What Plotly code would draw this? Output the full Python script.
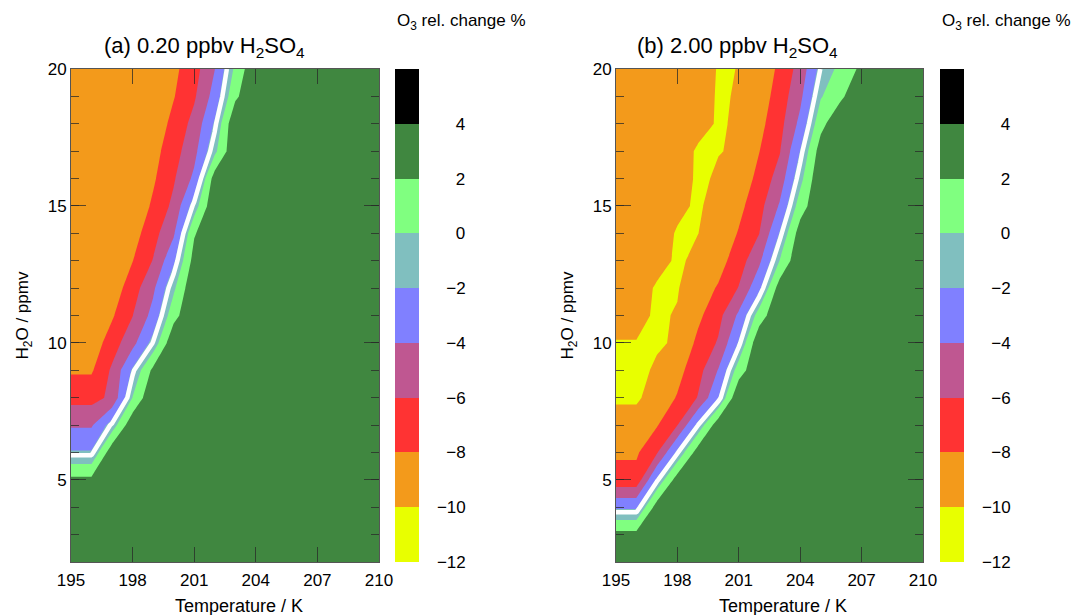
import plotly.graph_objects as go

# ---------------- data ----------------
temperature_K = [195, 196, 197, 198, 199, 200, 201, 202, 203, 204, 205, 206, 207, 208, 209, 210]
h2o_ppmv = [2, 3, 4, 5, 6, 7, 8, 9, 10, 11, 12, 13, 14, 15, 16, 17, 18, 19, 20]

# O3 relative change (%) for 0.20 ppbv H2SO4, one row per H2O value
o3_change_a = [
    [3.8, 3.8, 3.8, 3.8, 3.8, 3.8, 3.8, 3.8, 3.8, 3.8, 3.8, 3.8, 3.8, 3.8, 3.8, 3.8],
    [3.8, 3.8, 3.8, 3.8, 3.8, 3.8, 3.8, 3.8, 3.8, 3.8, 3.8, 3.8, 3.8, 3.8, 3.8, 3.8],
    [3.8, 3.8, 3.8, 3.8, 3.8, 3.8, 3.8, 3.8, 3.8, 3.8, 3.8, 3.8, 3.8, 3.8, 3.8, 3.8],
    [2.5, 2.5, 3.8, 3.8, 3.8, 3.8, 3.8, 3.8, 3.8, 3.8, 3.8, 3.8, 3.8, 3.8, 3.8, 3.8],
    [-1.83, -1.83, 3.4, 3.8, 3.8, 3.8, 3.8, 3.8, 3.8, 3.8, 3.8, 3.8, 3.8, 3.8, 3.8, 3.8],
    [-4.24, -4.24, -1.12, 3.56, 3.8, 3.8, 3.8, 3.8, 3.8, 3.8, 3.8, 3.8, 3.8, 3.8, 3.8, 3.8],
    [-6.65, -6.65, -5.6, 0.05, 3.9, 3.8, 3.8, 3.8, 3.8, 3.8, 3.8, 3.8, 3.8, 3.8, 3.8, 3.8],
    [-8.24, -8.24, -5.68, -1.72, 2.5, 3.8, 3.8, 3.8, 3.8, 3.8, 3.8, 3.8, 3.8, 3.8, 3.8, 3.8],
    [-9.2, -9.2, -6.98, -4.62, -1.31, 3.67, 3.8, 3.8, 3.8, 3.8, 3.8, 3.8, 3.8, 3.8, 3.8, 3.8],
    [-9.6, -9.6, -8.25, -6.05, -3.33, 1.31, 3.8, 3.8, 3.8, 3.8, 3.8, 3.8, 3.8, 3.8, 3.8, 3.8],
    [-9.6, -9.6, -9.17, -6.92, -4.38, -0.39, 3.8, 3.8, 3.8, 3.8, 3.8, 3.8, 3.8, 3.8, 3.8, 3.8],
    [-9.6, -9.6, -9.6, -8.05, -5.9, -2.35, 2.8, 3.8, 3.8, 3.8, 3.8, 3.8, 3.8, 3.8, 3.8, 3.8],
    [-9.6, -9.6, -9.6, -8.87, -6.74, -4.29, 1.8, 3.8, 3.8, 3.8, 3.8, 3.8, 3.8, 3.8, 3.8, 3.8],
    [-9.6, -9.6, -9.6, -9.6, -7.67, -5.5, -1.03, 3.8, 3.8, 3.8, 3.8, 3.8, 3.8, 3.8, 3.8, 3.8],
    [-9.6, -9.6, -9.6, -9.6, -8.29, -6.23, -3.56, 3.0, 3.8, 3.8, 3.8, 3.8, 3.8, 3.8, 3.8, 3.8],
    [-9.6, -9.6, -9.6, -9.6, -8.72, -6.83, -4.62, -0.49, 3.8, 3.8, 3.8, 3.8, 3.8, 3.8, 3.8, 3.8],
    [-9.6, -9.6, -9.6, -9.6, -9.3, -7.43, -5.35, -1.77, 3.8, 3.8, 3.8, 3.8, 3.8, 3.8, 3.8, 3.8],
    [-9.6, -9.6, -9.6, -9.6, -9.0, -8.11, -6.26, -3.2, 1.62, 3.8, 3.8, 3.8, 3.8, 3.8, 3.8, 3.8],
    [-9.6, -9.6, -9.6, -9.6, -9.0, -8.46, -6.8, -4.04, 0.43, 3.8, 3.8, 3.8, 3.8, 3.8, 3.8, 3.8],
]

# O3 relative change (%) for 2.00 ppbv H2SO4
o3_change_b = [
    [3.8, 3.8, 3.8, 3.8, 3.8, 3.8, 3.8, 3.8, 3.8, 3.8, 3.8, 3.8, 3.8, 3.8, 3.8, 3.8],
    [2.63, 2.63, 3.8, 3.8, 3.8, 3.8, 3.8, 3.8, 3.8, 3.8, 3.8, 3.8, 3.8, 3.8, 3.8, 3.8],
    [-2.3, -2.3, 3.0, 3.8, 3.8, 3.8, 3.8, 3.8, 3.8, 3.8, 3.8, 3.8, 3.8, 3.8, 3.8, 3.8],
    [-7.3, -7.3, -1.68, 3.0, 3.8, 3.8, 3.8, 3.8, 3.8, 3.8, 3.8, 3.8, 3.8, 3.8, 3.8, 3.8],
    [-8.27, -8.27, -6.2, -1.57, 3.0, 3.8, 3.8, 3.8, 3.8, 3.8, 3.8, 3.8, 3.8, 3.8, 3.8, 3.8],
    [-9.26, -9.26, -8.15, -6.05, -1.47, 3.3, 3.8, 3.8, 3.8, 3.8, 3.8, 3.8, 3.8, 3.8, 3.8, 3.8],
    [-10.25, -10.25, -9.25, -7.86, -5.9, -2.1, 3.9, 3.8, 3.8, 3.8, 3.8, 3.8, 3.8, 3.8, 3.8, 3.8],
    [-10.5, -10.5, -9.74, -8.66, -6.77, -3.89, 1.0, 3.8, 3.8, 3.8, 3.8, 3.8, 3.8, 3.8, 3.8, 3.8],
    [-10.05, -10.05, -10.2, -9.8, -7.55, -5.79, -1.81, 3.67, 3.8, 3.8, 3.8, 3.8, 3.8, 3.8, 3.8, 3.8],
    [-9.6, -9.6, -10.2, -9.9, -8.46, -6.63, -3.63, 0.95, 3.8, 3.8, 3.8, 3.8, 3.8, 3.8, 3.8, 3.8],
    [-9.2, -9.2, -10.2, -10.1, -9.0, -7.82, -5.9, -2.45, 3.0, 3.8, 3.8, 3.8, 3.8, 3.8, 3.8, 3.8],
    [-9.5, -9.5, -9.4, -10.25, -9.64, -8.79, -6.96, -4.4, 0.05, 3.8, 3.8, 3.8, 3.8, 3.8, 3.8, 3.8],
    [-9.5, -9.5, -9.2, -10.15, -10.02, -9.5, -7.85, -6.02, -1.87, 3.0, 3.8, 3.8, 3.8, 3.8, 3.8, 3.8],
    [-9.5, -9.5, -9.5, -9.6, -10.25, -9.29, -8.56, -6.69, -3.78, 1.0, 3.8, 3.8, 3.8, 3.8, 3.8, 3.8],
    [-9.5, -9.5, -9.5, -9.0, -10.3, -9.8, -9.31, -7.41, -5.12, -0.65, 3.8, 3.8, 3.8, 3.8, 3.8, 3.8],
    [-9.5, -9.5, -9.5, -9.0, -10.25, -10.05, -9.85, -8.04, -6.12, -1.95, 3.0, 3.8, 3.8, 3.8, 3.8, 3.8],
    [-9.5, -9.5, -9.5, -9.5, -9.3, -10.2, -9.76, -8.58, -6.66, -3.47, 1.33, 3.8, 3.8, 3.8, 3.8, 3.8],
    [-9.5, -9.5, -9.5, -9.5, -9.3, -10.15, -9.9, -9.06, -7.1, -4.46, -0.17, 1.65, 3.8, 3.8, 3.8, 3.8],
    [-9.5, -9.5, -9.5, -9.5, -9.2, -10.1, -9.98, -9.54, -7.54, -5.23, -1.33, 0.64, 2.45, 3.8, 3.8, 3.8],
]

# colour of each 2 % band, from (-12,-10) up to (4,6)
band_colors = ["#E8FF00", "#F39A1B", "#FF3333", "#BF5791", "#8080FF",
               "#80BFBF", "#80FF80", "#408740", "#000000"]
band_edges = [-12, -10, -8, -6, -4, -2, 0, 2, 4, 6]
cbar_tickvals = [-12, -10, -8, -6, -4, -2, 0, 2, 4]
cbar_ticktext = ["\u221212", "\u221210", "\u2007\u22128", "\u2007\u22126", "\u2007\u22124",
                 "\u2007\u22122", "\u2007\u20070", "\u2007\u20072", "\u2007\u20074"]
x_ticks = [195, 198, 201, 204, 207, 210]
y_ticks = [5, 10, 15, 20]
white_line_level = -1.4

# ---------------- figure ----------------
W, H = 1075, 615
FONT = "Liberation Sans, Arial, sans-serif"

def px_x(p):
    return p / W

def px_y(p):
    return 1 - p / H

# stepped colour scale: one flat step per 2 % band
nb = len(band_colors)
colorscale = []
for i, c in enumerate(band_colors):
    colorscale.append([i / nb, c])
    colorscale.append([(i + 1) / nb, c])

panels = [
    dict(z=o3_change_a, xref="x", yref="y", left=71, right=379, cb=395,
         title="(a) 0.20 ppbv H<sub>2</sub>SO<sub>4</sub>", title_x=204, xt_x=239),
    dict(z=o3_change_b, xref="x2", yref="y2", left=616, right=923, cb=940,
         title="(b) 2.00 ppbv H<sub>2</sub>SO<sub>4</sub>", title_x=737, xt_x=783),
]

fig = go.Figure()
for p in panels:
    fig.add_trace(go.Contour(
        x=temperature_K, y=h2o_ppmv, z=p["z"],
        xaxis=p["xref"], yaxis=p["yref"],
        colorscale=colorscale, autocontour=False,
        zmin=band_edges[0], zmax=band_edges[-1],
        contours=dict(start=band_edges[0], end=band_edges[-1], size=2,
                      coloring="fill", showlines=False),
        line=dict(width=0, smoothing=0),
        hoverinfo="skip",
        colorbar=dict(
            x=px_x(p["cb"]), xanchor="left", xpad=0,
            y=px_y(69), yanchor="top", ypad=0,
            len=493 / H, lenmode="fraction",
            thickness=24, thicknessmode="pixels",
            outlinewidth=0,
            tickmode="array", tickvals=cbar_tickvals, ticktext=cbar_ticktext,
            ticks="outside", ticklen=15, tickcolor="rgba(0,0,0,0)",
            tickfont=dict(size=17, color="black", family=FONT),
        ),
    ))
    fig.add_trace(go.Contour(
        x=temperature_K, y=h2o_ppmv, z=p["z"],
        xaxis=p["xref"], yaxis=p["yref"],
        autocontour=False, showscale=False,
        contours=dict(start=white_line_level, end=white_line_level, size=1, coloring="none"),
        line=dict(color="white", width=4.5, smoothing=0),
        hoverinfo="skip",
    ))

axis_common = dict(
    automargin=False,
    showgrid=False, zeroline=False, showline=True, linecolor="#555", linewidth=1,
    mirror="ticks", ticks="inside", ticklen=15, tickwidth=1,
    tickcolor="rgba(40,40,40,0.75)",
    tickfont=dict(size=17, color="black", family=FONT),
)

layout = dict(
    width=W, height=H, margin=dict(l=0, r=0, t=0, b=0, autoexpand=False),
    paper_bgcolor="white", plot_bgcolor="white",
    font=dict(family=FONT, color="black"),
    showlegend=False,
    annotations=[],
)
for i, p in enumerate(panels):
    sx = "" if i == 0 else "2"
    layout["xaxis" + sx] = dict(
        axis_common, domain=[px_x(p["left"]), px_x(p["right"])], range=[195, 210],
        tickmode="array", tickvals=x_ticks, anchor="y" + sx,
        ticklabelstandoff=3,
    )
    layout["yaxis" + sx] = dict(
        axis_common, domain=[px_y(562), px_y(69)], range=[2, 20],
        tickmode="array", tickvals=y_ticks, anchor="x" + sx,
        minor=dict(dtick=1, tick0=0, ticks="inside", ticklen=8,
                   tickcolor="rgba(40,40,40,0.75)"),
        title=dict(text="H<sub>2</sub>O / ppmv", font=dict(size=17, family=FONT), standoff=14),
    )
    layout["annotations"].append(dict(
        text=p["title"], x=px_x(p["title_x"]), y=px_y(47), xref="paper", yref="paper",
        xanchor="center", yanchor="middle", showarrow=False,
        font=dict(size=22, family=FONT, color="black"),
    ))
    layout["annotations"].append(dict(
        text="O<sub>3</sub> rel. change %", x=px_x(p["cb"]), y=px_y(22),
        xref="paper", yref="paper", xanchor="left", yanchor="middle", showarrow=False,
        font=dict(size=17, family=FONT, color="black"),
    ))
    layout["annotations"].append(dict(
        text="Temperature / K", x=px_x(p["xt_x"]), y=px_y(606),
        xref="paper", yref="paper", xanchor="center", yanchor="middle", showarrow=False,
        font=dict(size=18, family=FONT, color="black"),
    ))

fig.update_layout(**layout)
fig.write_html("out.html")
